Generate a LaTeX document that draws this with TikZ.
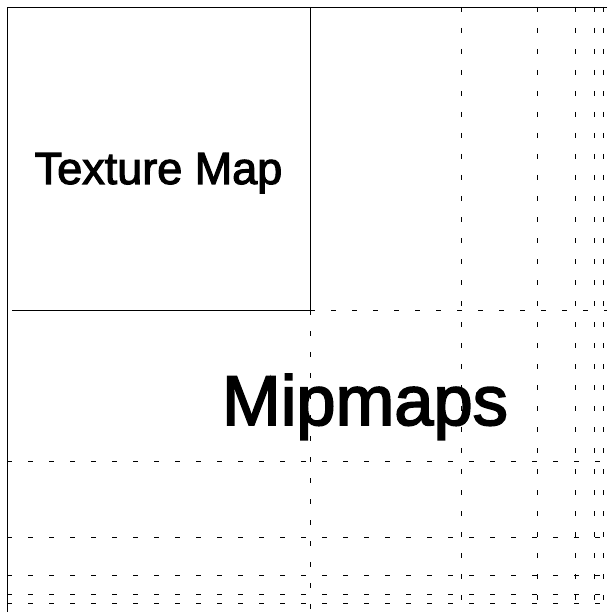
\documentclass[tikz,border=0pt]{standalone}
\usepackage{fontspec}
\setmainfont{Liberation Sans}
\newfontfamily\capfont{Liberation Sans}[FakeBold=2.5]
\usetikzlibrary{positioning}

\begin{document}
\begin{tikzpicture}[x=1pt, y=-1pt, line width=0.8pt,
  mipline/.style={dash pattern=on 5pt off 16pt},
  caption/.style={anchor=base, inner sep=0pt}]
  \useasboundingbox (0,0) rectangle (607,612);
  % frame and texture map
  \draw (607,7) -- (7,7) -- (7,612);
  \draw (310,7) -- (310,315) (12,310) -- (315,310);
  % mipmap levels
  \draw[mipline] (310,310) -- (310,612) (310,310) -- (607,310);
  \foreach \p in {461.5,537.25,575.1,594.1,603.5} {
    \draw[mipline] (\p,7) -- (\p,612);
    \draw[mipline] (7,\p) -- (607,\p);
  }
  \node[caption, font=\capfont\fontsize{45}{45}\selectfont] (texmap) at (158.5,184) {Texture Map};
  \node[caption, font=\capfont\fontsize{70.5}{70.5}\selectfont] (mipmaps) at (365,425) {Mipmaps};
\end{tikzpicture}
\end{document}
